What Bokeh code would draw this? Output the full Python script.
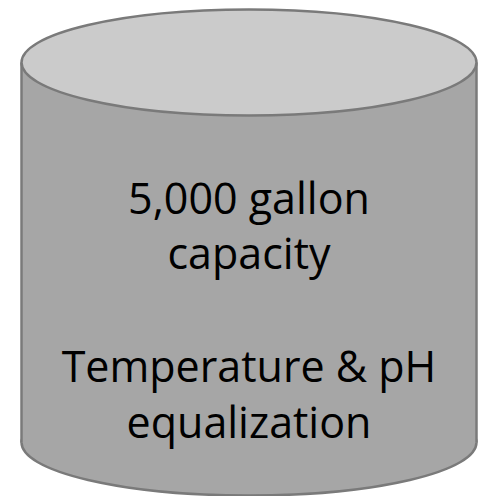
from bokeh.plotting import figure
from bokeh.models import Range1d
from bokeh.core.properties import value
from bokeh.embed import file_html
from bokeh.resources import INLINE

# Text content (lines of the label inside the tank)
lines = ["5,000 gallon", "capacity", "Temperature & pH", "equalization"]
line_baselines = [197, 252, 365, 421]

# Tank geometry (page pixel coordinates)
cx = 248.5
half_w = 227.5
top_y = 62
bottom_y = 442
ry = 53

body_col = "#a6a6a6"
top_col = "#cbcbcb"
edge_col = "#7a7a7a"

W, H = 481, 496
p = figure(width=W, height=H, output_backend="svg", toolbar_location=None,
           x_range=Range1d(0, W), y_range=Range1d(H, 0),
           min_border=0, outline_line_color=None)
p.axis.visible = False
p.grid.visible = False
p.background_fill_color = "white"
p.border_fill_color = "white"

# bottom ellipse
p.ellipse(x=[cx], y=[bottom_y], width=[2 * half_w], height=[2 * ry],
          fill_color=body_col, line_color=edge_col, line_width=2.5)
# body
p.quad(left=[cx - half_w], right=[cx + half_w], top=[top_y], bottom=[bottom_y],
       fill_color=body_col, line_color=None)
# sides
p.segment(x0=[cx - half_w, cx + half_w], y0=[top_y, top_y],
          x1=[cx - half_w, cx + half_w], y1=[bottom_y, bottom_y],
          line_color=edge_col, line_width=2.5)
# top ellipse
p.ellipse(x=[cx], y=[top_y], width=[2 * half_w], height=[2 * ry],
          fill_color=top_col, line_color=edge_col, line_width=2.5)

p.text(x=[cx] * len(lines), y=line_baselines, text=lines,
       text_align="center", text_baseline="alphabetic",
       text_font=value("Open Sans"), text_font_size="43px", text_color="black")

open("out.html", "w").write(file_html(p, INLINE))
